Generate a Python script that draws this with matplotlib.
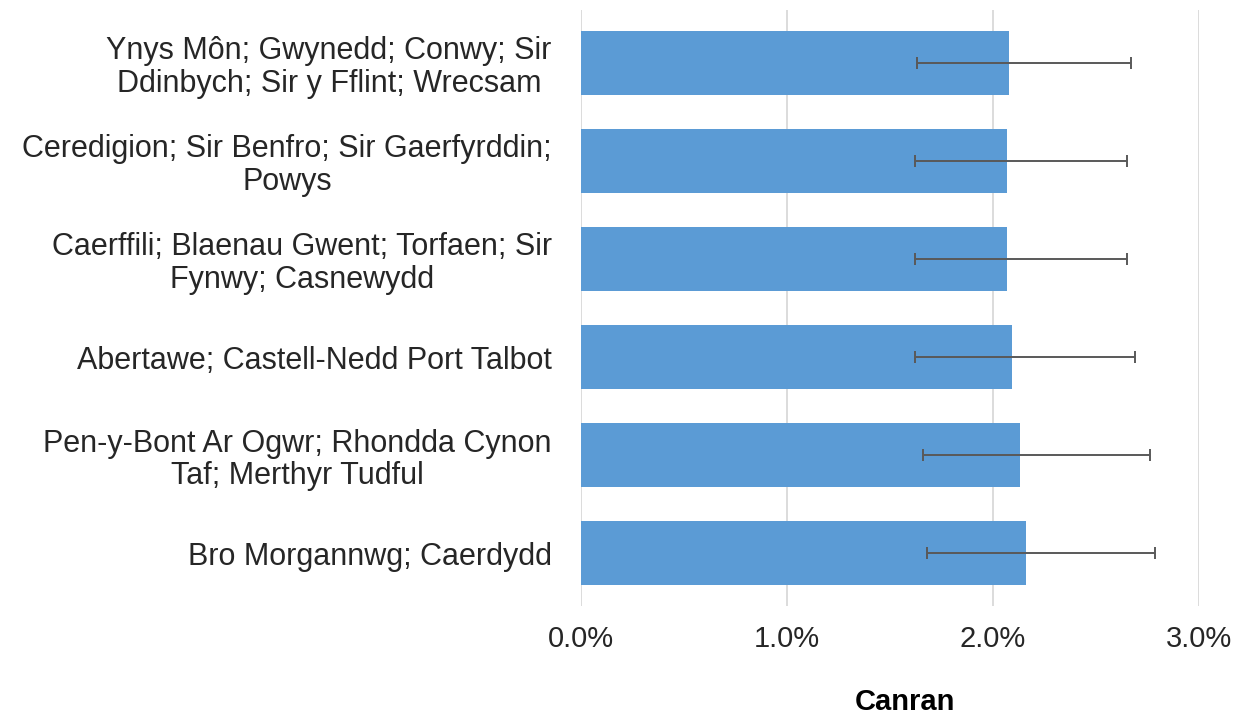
import matplotlib
matplotlib.use("Agg")
import matplotlib.pyplot as plt
from matplotlib.ticker import FuncFormatter

categories = [
    "Ynys Môn; Gwynedd; Conwy; Sir\nDdinbych; Sir y Fflint; Wrecsam",
    "Ceredigion; Sir Benfro; Sir Gaerfyrddin;\nPowys",
    "Caerffili; Blaenau Gwent; Torfaen; Sir\nFynwy; Casnewydd",
    "Abertawe; Castell-Nedd Port Talbot",
    "Pen-y-Bont Ar Ogwr; Rhondda Cynon\nTaf; Merthyr Tudful",
    "Bro Morgannwg; Caerdydd",
]
values = [2.08, 2.07, 2.07, 2.09, 2.13, 2.16]
lower = [1.63, 1.62, 1.62, 1.62, 1.66, 1.68]
upper = [2.67, 2.65, 2.65, 2.69, 2.76, 2.785]
xticks = [0.0, 1.0, 2.0, 3.0]

plt.rcParams['font.family'] = ['Liberation Sans', 'DejaVu Sans']

fig = plt.figure(figsize=(12.37, 7.18), dpi=100)
ax = fig.add_axes([581 / 1237, 1 - 606 / 718, (1199 - 581) / 1237, (606 - 10) / 718])

ypos = list(range(len(categories)))
xerr = [[v - l for v, l in zip(values, lower)], [u - v for u, v in zip(upper, values)]]
ax.barh(ypos, values, height=0.66, color="#5b9bd5", zorder=2)
ax.errorbar(values, ypos, xerr=xerr, fmt='none', ecolor="#595959", elinewidth=1.4,
            capsize=4, capthick=1.4, zorder=3)

ax.set_xlim(0, 3.0)
ax.set_ylim(len(categories) - 0.5 + 0.04, -0.5 - 0.04)
ax.set_xticks(xticks)
ax.xaxis.set_major_formatter(FuncFormatter(lambda x, p: f"{x:.1f}%"))
ax.set_yticks(ypos)
ax.set_yticklabels(categories, fontsize=22, color="#262626", multialignment='center',
                   linespacing=1.1)
ax.tick_params(axis='x', labelsize=21, labelcolor="#262626", length=0, pad=14)
ax.tick_params(axis='y', length=0, pad=21)
ax.grid(axis='x', color="#d9d9d9", linewidth=1.3, zorder=0)
ax.set_axisbelow(True)
for s in ax.spines.values():
    s.set_visible(False)

fig.text(905 / 1237, 1 - 702 / 718, "Canran", fontsize=21, fontweight='bold',
         ha='center', va='center', color="#000000")

fig.savefig("out.png", dpi=100)
